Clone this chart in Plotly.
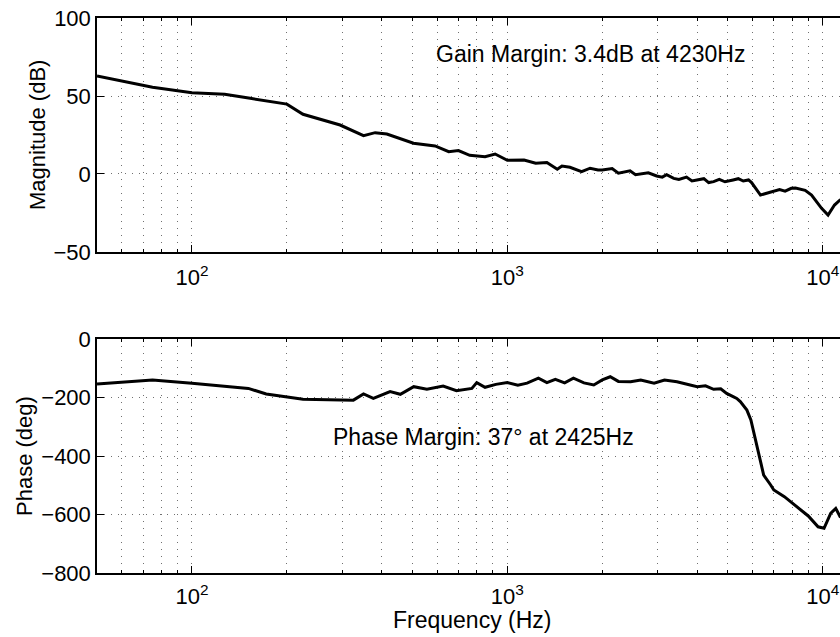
import math
import plotly.graph_objects as go

# Measured open-loop frequency response
mag_freq = [50, 75, 100, 127, 153, 200, 225, 295, 350, 381, 415, 504, 590, 652, 700,
            760, 850, 915, 1000, 1130, 1230, 1335, 1440, 1490, 1580, 1720, 1830, 1940,
            2000, 2150, 2250, 2340, 2450, 2550, 2630, 2800, 2975, 3100, 3200, 3370,
            3500, 3700, 3850, 4000, 4200, 4350, 4510, 4700, 4900, 5200, 5400, 5600,
            5820, 5950, 6120, 6350, 6600, 7000, 7300, 7600, 7950, 8200, 8560, 8800,
            9220, 9500, 9920, 10400, 10900, 11350, 12000]
mag_db = [62.8, 55.6, 52.1, 51.1, 48.5, 44.8, 38.3, 31.4, 24.6, 26.5, 25.6, 19.7, 18.0,
          14.3, 15.0, 12.0, 11.1, 12.8, 8.8, 9.0, 6.9, 7.3, 3.0, 5.1, 4.3, 1.5, 3.7, 2.6,
          2.6, 3.5, 0.5, 1.1, 2.0, -0.5, 0.0, 0.8, -1.3, -2.0, -0.5, -2.8,
          -3.5, -2.0, -4.5, -3.8, -3.0, -5.5, -4.9, -3.5, -5.0, -3.8, -3.0, -4.5,
          -3.8, -5.5, -9.2, -13.5, -12.5, -11.3, -10.0, -11.0, -9.2, -9.0, -9.8, -10.5,
          -13.5, -17.0, -22.0, -26.3, -19.9, -16.7, -15.0]

ph_freq = [50, 75, 100, 151, 172, 200, 225, 325, 350, 376, 425, 458, 505, 556, 626,
           690, 772, 800, 850, 920, 1000, 1080, 1155, 1255, 1335, 1420, 1520, 1620,
           1750, 1880, 2000, 2120, 2250, 2460, 2650, 2920, 3150, 3450, 3700, 4000,
           4250, 4510, 4750, 4960, 5200, 5340, 5480, 5750, 5920, 6190, 6500, 6840,
           7000, 7560, 8000, 8560, 9000, 9670, 10100, 10600, 11000, 11350, 12000]
ph_deg = [-154, -140, -151, -169, -188, -197, -206, -209, -188, -203, -180, -189, -163,
          -172, -161, -177, -169, -149, -165, -155, -149, -158, -151, -134, -149, -138,
          -150, -134, -150, -157, -140, -129, -145, -146, -140, -151, -140, -146, -155,
          -163, -160, -172, -170, -186, -197, -203, -214, -243, -277, -370, -465, -499,
          -516, -539, -560, -585, -605, -642, -647, -596, -579, -607, -620]

decade_ticks = [100, 1000, 10000]
decade_text = ["10<sup>2</sup>", "10<sup>3</sup>", "10<sup>4</sup>"]
mag_ticks = [-50, 0, 50, 100]
ph_ticks = [-800, -600, -400, -200, 0]

gain_margin_text = "Gain Margin: 3.4dB at 4230Hz"
phase_margin_text = "Phase Margin: 37° at 2425Hz"

FONT = "Liberation Sans, Arial, Helvetica, sans-serif"
FS = 22
FS_TEXT = 23

# intermediate log ticks (2..9 x 10^n) inside the visible range
minor_ticks = [m * 10 ** e for e in range(1, 5) for m in range(2, 10)
               if 50 <= m * 10 ** e <= 12000]

x_range = [math.log10(50), 4.0549]

fig = go.Figure()
fig.add_trace(go.Scatter(x=mag_freq, y=mag_db, mode="lines",
                         line=dict(color="black", width=3), xaxis="x", yaxis="y",
                         showlegend=False))
fig.add_trace(go.Scatter(x=ph_freq, y=ph_deg, mode="lines",
                         line=dict(color="black", width=3), xaxis="x2", yaxis="y2",
                         showlegend=False))

grid = dict(showgrid=True, gridcolor="#707070", gridwidth=1, griddash="1px,6px")
xcommon = dict(type="log", range=x_range, tickmode="array", tickvals=decade_ticks,
               ticktext=decade_text, ticks="inside", ticklen=7, tickcolor="black",
               tickwidth=1,
               minor=dict(tickmode="array", tickvals=minor_ticks, ticks="inside",
                          ticklen=3, tickcolor="black", tickwidth=1, showgrid=True,
                          gridcolor="#707070", gridwidth=1, griddash="1px,6px"),
               showline=True, linecolor="black", linewidth=1.5, mirror="ticks",
               zeroline=False, tickfont=dict(family=FONT, size=FS, color="black"),
               **grid)
ycommon = dict(ticks="inside", ticklen=7, tickcolor="black", tickwidth=1,
               showline=True, linecolor="black", linewidth=1.5, mirror=False,
               zeroline=False, tickfont=dict(family=FONT, size=FS, color="black"),
               **grid)

fig.update_layout(
    width=840, height=637,
    margin=dict(l=97, r=0, t=18, b=64),
    paper_bgcolor="white", plot_bgcolor="white",
    xaxis=dict(domain=[0, 1], anchor="y", ticklabelstandoff=5, **xcommon),
    yaxis=dict(domain=[0.5784, 1], anchor="x", range=[-50, 100], tickvals=mag_ticks,
               **ycommon),
    xaxis2=dict(domain=[0, 1], anchor="y2", ticklabelstandoff=3, **xcommon),
    yaxis2=dict(domain=[0, 0.4216], anchor="x2", range=[-800, 0], tickvals=ph_ticks,
                **ycommon),
    font=dict(family=FONT, size=FS, color="black"),
)

plot_w = 840 - 97
plot_h = 637 - 18 - 64
annos = [
    dict(text=gain_margin_text, x=math.log10(1833), y=77, xref="x", yref="y",
         size=FS_TEXT),
    dict(text=phase_margin_text, x=math.log10(839), y=-335, xref="x2", yref="y2",
         size=FS_TEXT),
    dict(text="Magnitude (dB)", x=(38 - 97) / plot_w, y=(573 - 135) / plot_h,
         xref="paper", yref="paper", textangle=-90, size=FS),
    dict(text="Phase (deg)", x=(25 - 97) / plot_w, y=(573 - 456) / plot_h,
         xref="paper", yref="paper", textangle=-90, size=FS),
    dict(text="Frequency (Hz)", x=(472 - 97) / plot_w, y=-(620 - 573) / plot_h,
         xref="paper", yref="paper", size=FS_TEXT),
]
for a in annos:
    size = a.pop("size")
    fig.add_annotation(showarrow=False, xanchor="center", yanchor="middle",
                       font=dict(family=FONT, size=size, color="black"), **a)

fig.write_html("out.html")
